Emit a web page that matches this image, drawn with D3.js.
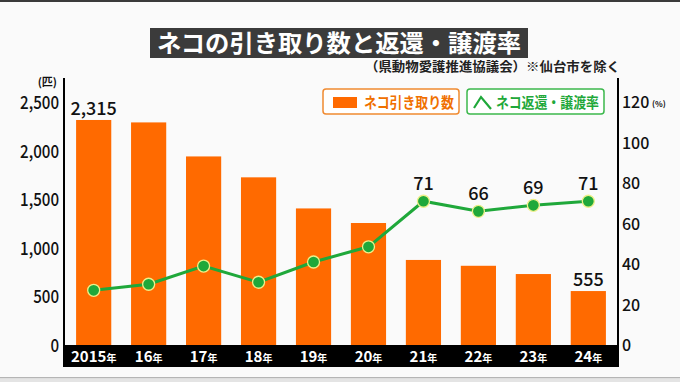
<!DOCTYPE html>
<html>
<head>
<meta charset="utf-8">
<script src="https://cdn.jsdelivr.net/npm/d3@7"></script>
<style>
  html, body { margin: 0; padding: 0; background: #fafafa; }
  svg { display: block; font-family: "Noto Sans CJK JP", "Noto Sans", sans-serif; }
</style>
</head>
<body>
<div class="chart"></div>
<script>
// data
const years = ["2015", "16", "17", "18", "19", "20", "21", "22", "23", "24"];
const counts = [2315, 2290, 1940, 1725, 1405, 1255, 875, 815, 730, 555];
const rates = [27, 30, 39, 31, 41, 48.5, 71, 66, 69, 71];
const countLabels = [[0, "2,315"], [9, "555"]];
const rateLabels = [[6, "71"], [7, "66"], [8, "69"], [9, "71"]];
const leftTicks = [0, 500, 1000, 1500, 2000, 2500];
const rightTicks = [0, 20, 40, 60, 80, 100, 120];

const title = "ネコの引き取り数と返還・譲渡率";
const source = "（県動物愛護推進協議会）※仙台市を除く";

const width = 680, height = 382;
const orange = "#ff6a00", green = "#1fa83a";

let svg = d3.select(".chart").append("svg").attr("width", width).attr("height", height);

// squeeze a text to a given width
function fit(sel, w) {
  sel.attr("textLength", w).attr("lengthAdjust", "spacingAndGlyphs");
}
function narrow(sel, k) {
  sel.attr("textLength", function() { return this.getComputedTextLength() * k; })
    .attr("lengthAdjust", "spacingAndGlyphs");
}

// frame
svg.append("rect").attr("width", width).attr("height", height).attr("fill", "#fafafa");
svg.append("rect").attr("width", width).attr("height", 2).attr("fill", "#3a3a3a");
svg.append("rect").attr("y", 377).attr("width", width).attr("height", 1.5).attr("fill", "#b5b5b5");
svg.append("rect").attr("y", 378.5).attr("width", width).attr("height", 4).attr("fill", "#e4e4e4");

let x = d3.scaleBand().domain(years).range([64, 618]).paddingInner(0.36).paddingOuter(0.22);
let yL = d3.scaleLinear().domain([0, 2500]).range([345, 102]);
let yR = d3.scaleLinear().domain([0, 120]).range([345, 102]);

// title
svg.append("rect").attr("x", 150).attr("y", 28).attr("width", 378).attr("height", 30).attr("fill", "#3b3b3b");
svg.append("text").attr("x", 157).attr("y", 52)
  .attr("font-size", 24).attr("font-weight", 700).attr("fill", "#fff").text(title)
  .call(fit, 364);
svg.append("text").attr("x", 365).attr("y", 71)
  .attr("font-size", 13).attr("font-weight", 700).attr("fill", "#222").text(source)
  .call(fit, 255);

// bars
svg.selectAll("rect.bar").data(counts).enter().append("rect").attr("class", "bar")
  .attr("x", (d, i) => x(years[i]))
  .attr("y", d => yL(d))
  .attr("width", x.bandwidth())
  .attr("height", d => yL(0) - yL(d))
  .attr("fill", orange);

// bottom band with years
svg.append("rect").attr("x", 64).attr("y", 345).attr("width", 554).attr("height", 22).attr("fill", "#000");
let yl = svg.selectAll("text.year").data(years).enter().append("text").attr("class", "year")
  .attr("x", d => x(d) + x.bandwidth() / 2).attr("y", 362)
  .attr("text-anchor", "middle").attr("fill", "#fff").attr("font-weight", 700);
yl.append("tspan").attr("font-size", 15).text(d => d);
yl.append("tspan").attr("font-size", 10).text("年");

// axes lines
svg.append("line").attr("x1", 64).attr("x2", 64).attr("y1", 78).attr("y2", 367).attr("stroke", "#000").attr("stroke-width", 2);
svg.append("line").attr("x1", 618).attr("x2", 618).attr("y1", 78).attr("y2", 367).attr("stroke", "#000").attr("stroke-width", 2);

// left axis
svg.selectAll("text.lt").data(leftTicks).enter().append("text").attr("class", "lt")
  .attr("x", 59).attr("y", d => yL(d) + 7).attr("text-anchor", "end")
  .attr("font-size", 18).attr("font-weight", 500).attr("fill", "#111")
  .text(d => d3.format(",")(d))
  .call(narrow, 0.84);
svg.append("text").attr("x", 57).attr("y", 86).attr("text-anchor", "end")
  .attr("font-size", 11).attr("font-weight", 700).attr("fill", "#111").text("(匹)");

// right axis
svg.selectAll("text.rt").data(rightTicks).enter().append("text").attr("class", "rt")
  .attr("x", 622).attr("y", d => yR(d) + 6)
  .attr("font-size", 16).attr("font-weight", 500).attr("fill", "#111")
  .text(d => d);
svg.append("text").attr("x", 652).attr("y", yR(120) + 5)
  .attr("font-size", 8).attr("font-weight", 700).attr("fill", "#111").text("(%)");

// line
let line = d3.line().x((d, i) => x(years[i]) + x.bandwidth() / 2).y(d => yR(d));
svg.append("path").datum(rates).attr("d", line).attr("fill", "none")
  .attr("stroke", green).attr("stroke-width", 3);
svg.selectAll("circle").data(rates).enter().append("circle")
  .attr("cx", (d, i) => x(years[i]) + x.bandwidth() / 2)
  .attr("cy", d => yR(d)).attr("r", 6)
  .attr("fill", green).attr("stroke", "#eef08a").attr("stroke-width", 1.3);

// value labels
svg.selectAll("text.cl").data(countLabels).enter().append("text").attr("class", "cl")
  .attr("x", d => x(years[d[0]]) + x.bandwidth() / 2).attr("y", d => yL(counts[d[0]]) - 5)
  .attr("text-anchor", "middle").attr("font-size", 18).attr("font-weight", 500).attr("fill", "#111")
  .text(d => d[1]);
svg.selectAll("text.rl").data(rateLabels).enter().append("text").attr("class", "rl")
  .attr("x", d => x(years[d[0]]) + x.bandwidth() / 2).attr("y", d => yR(rates[d[0]]) - 11)
  .attr("text-anchor", "middle").attr("font-size", 18).attr("font-weight", 500).attr("fill", "#111")
  .text(d => d[1]);

// legend
let lg = svg.append("g");
lg.append("rect").attr("x", 323).attr("y", 89).attr("width", 136).attr("height", 25).attr("rx", 3)
  .attr("fill", "#fff").attr("stroke", "#f08a30").attr("stroke-width", 1.5);
lg.append("rect").attr("x", 333).attr("y", 97).attr("width", 24).attr("height", 11).attr("fill", orange);
lg.append("text").attr("x", 364).attr("y", 108).attr("font-size", 14.5).attr("font-weight", 700)
  .attr("fill", "#f07000").text("ネコ引き取り数")
  .call(fit, 90);
lg.append("rect").attr("x", 467).attr("y", 89).attr("width", 137).attr("height", 25).attr("rx", 3)
  .attr("fill", "#fff").attr("stroke", "#3cb84c").attr("stroke-width", 1.5);
lg.append("path").attr("d", "M474,108 L481,97 L491,109").attr("fill", "none")
  .attr("stroke", green).attr("stroke-width", 2.2);
lg.append("text").attr("x", 496).attr("y", 108).attr("font-size", 14.5).attr("font-weight", 700)
  .attr("fill", green).text("ネコ返還・譲渡率")
  .call(fit, 103);
</script>
</body>
</html>
